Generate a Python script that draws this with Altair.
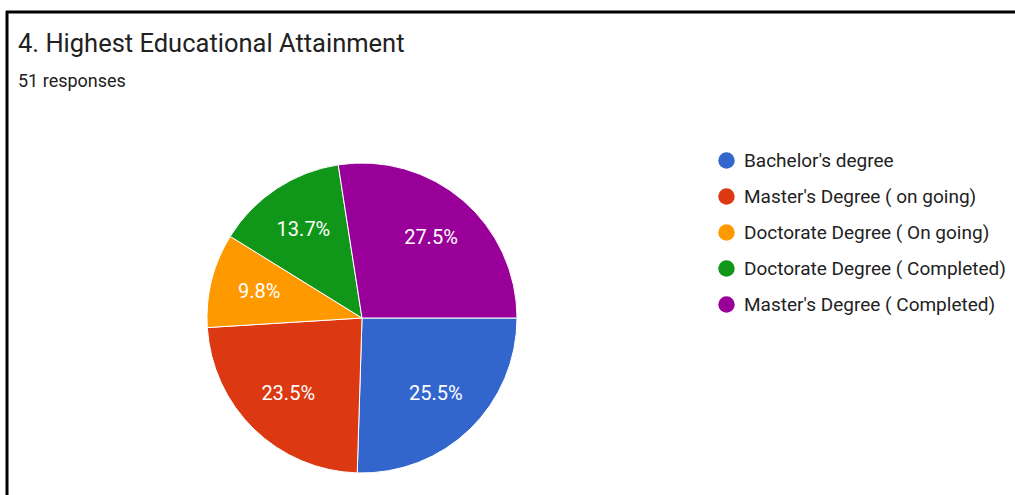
import altair as alt
import pandas as pd

categories = [
    "Bachelor's degree",
    "Master's Degree ( on going)",
    "Doctorate Degree ( On going)",
    "Doctorate Degree ( Completed)",
    "Master's Degree ( Completed)",
]
counts = [13, 12, 5, 7, 14]
colors = ["#3366cc", "#dc3912", "#ff9900", "#109618", "#990099"]
title_text = "4. Highest Educational Attainment"
subtitle_text = "51 responses"

total = sum(counts)
df = pd.DataFrame({
    "category": categories,
    "count": counts,
    "idx": list(range(len(categories))),
    "label": [f"{c / total * 100:.1f}%" for c in counts],
})

W, H = 1015, 495
CX, CY = 362, 318
R = 155
FONT = "Roboto"

theta_scale = alt.Scale(range=[1.5708, 1.5708 + 6.28318])
color_scale = alt.Scale(domain=categories, range=colors)

base = alt.Chart(df)

pie = base.mark_arc(outerRadius=R, stroke="white", strokeWidth=1).encode(
    theta=alt.Theta("count:Q", stack=True, scale=theta_scale),
    color=alt.Color(
        "category:N",
        scale=color_scale,
        sort=categories,
        legend=alt.Legend(
            title=None,
            orient="none",
            legendX=717,
            legendY=151,
            symbolType="circle",
            symbolSize=270,
            symbolStrokeWidth=0,
            labelFont=FONT,
            labelFontSize=19,
            labelColor="#222222",
            labelLimit=400,
            rowPadding=16,
            labelOffset=8,
        ),
    ),
    order=alt.Order("idx:Q"),
    x=alt.value(CX),
    y=alt.value(CY),
)

labels = base.mark_text(
    radius=106, font=FONT, fontSize=20, color="white"
).encode(
    theta=alt.Theta("count:Q", stack=True, scale=theta_scale),
    text="label:N",
    order=alt.Order("idx:Q"),
    x=alt.value(CX),
    y=alt.value(CY),
)

tdf = pd.DataFrame({"t": [title_text], "s": [subtitle_text]})
title = alt.Chart(tdf).mark_text(
    align="left", baseline="alphabetic", font=FONT, fontSize=25.5, color="#212121"
).encode(text="t:N", x=alt.value(18), y=alt.value(52))
subtitle = alt.Chart(tdf).mark_text(
    align="left", baseline="alphabetic", font=FONT, fontSize=18, color="#212121"
).encode(text="s:N", x=alt.value(18), y=alt.value(87))

left_border = alt.Chart(tdf).mark_rule(color="black", strokeWidth=3).encode(
    x=alt.value(7), y=alt.value(11), y2=alt.value(H)
)
top_border = alt.Chart(tdf).mark_rule(color="black", strokeWidth=3).encode(
    x=alt.value(6), x2=alt.value(W), y=alt.value(12)
)

chart = alt.layer(pie, labels, title, subtitle, left_border, top_border).properties(
    width=W, height=H, padding=0, autosize=alt.AutoSizeParams(type="none"),
    background="white",
).configure_view(stroke=None)

chart.save("out.html", embed_options={"renderer": "svg", "actions": False})
